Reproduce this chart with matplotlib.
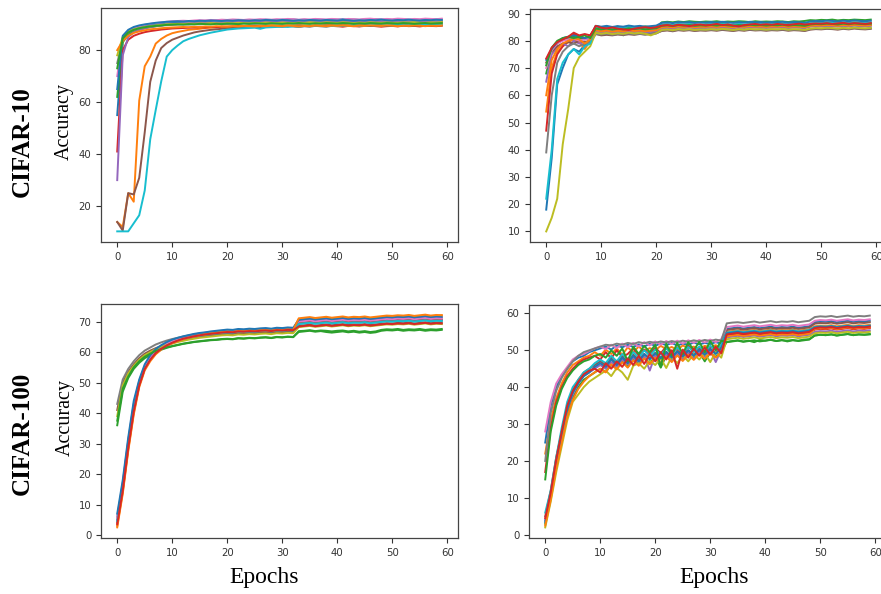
import numpy as np
import matplotlib.pyplot as plt

# test accuracy per epoch, one list per run
cifar10_left = [
    [55, 84.0, 87.0, 88.2, 88.8, 89.3, 89.6, 90.0, 90.2, 90.6,
     90.8, 90.7, 91.0, 91.1, 91.0, 91.2, 91.3, 91.2, 91.4, 91.3,
     91.5, 91.4, 91.6, 91.5, 91.4, 91.6, 91.5, 91.7, 91.6, 91.5,
     91.7, 91.6, 91.8, 91.6, 91.7, 91.5, 91.8, 91.7, 91.6, 91.8,
     91.7, 91.9, 91.7, 91.8, 91.6, 91.8, 91.7, 91.9, 91.8, 91.7,
     91.6, 91.8, 91.9, 91.7, 91.8, 91.6, 91.8, 91.9, 91.7, 91.8],
    [13.9, 12.0, 25.0, 21.7, 60.6, 73.8, 77.5, 82.5, 84.3, 85.6,
     86.5, 87.0, 87.4, 87.8, 88.0, 88.2, 88.5, 88.6, 88.8, 89.0,
     89.1, 89.0, 89.3, 89.2, 89.4, 89.3, 89.5, 89.4, 89.6, 89.5,
     89.4, 89.6, 89.5, 89.7, 89.5, 89.4, 89.6, 89.5, 89.7, 89.6,
     89.5, 89.7, 89.6, 89.4, 89.6, 89.8, 89.5, 89.7, 89.6, 89.5,
     89.7, 89.6, 89.8, 89.5, 89.7, 89.6, 89.8, 89.7, 89.5, 89.7],
    [62, 83.0, 86.0, 87.3, 88.0, 88.5, 88.9, 89.2, 89.5, 89.8,
     90.0, 90.1, 90.2, 90.1, 90.3, 90.4, 90.3, 90.5, 90.4, 90.6,
     90.5, 90.7, 90.6, 90.5, 90.7, 90.6, 90.8, 90.7, 90.6, 90.8,
     90.7, 90.9, 90.8, 90.6, 90.8, 90.7, 90.9, 90.8, 90.7, 90.9,
     90.8, 90.6, 90.9, 90.8, 90.7, 90.9, 91.0, 90.8, 90.7, 90.9,
     90.8, 91.0, 90.9, 90.7, 90.9, 90.8, 91.0, 90.9, 90.8, 91.0],
    [41, 80.0, 84.0, 85.5, 86.3, 86.9, 87.3, 87.6, 87.9, 88.1,
     88.3, 88.4, 88.5, 88.6, 88.7, 88.8, 88.7, 88.9, 88.8, 89.0,
     88.9, 89.1, 89.0, 88.9, 89.1, 89.0, 89.2, 89.1, 89.0, 89.2,
     89.1, 89.3, 89.2, 89.0, 89.2, 89.1, 89.3, 89.2, 89.1, 89.3,
     89.2, 89.0, 89.3, 89.2, 89.1, 89.3, 89.4, 89.2, 89.0, 89.2,
     89.3, 89.1, 89.4, 89.2, 89.3, 89.1, 89.4, 89.3, 89.2, 89.4],
    [30, 78.0, 85.0, 86.8, 87.7, 88.3, 88.8, 89.2, 89.5, 89.8,
     90.0, 90.2, 90.3, 90.4, 90.3, 90.5, 90.6, 90.5, 90.7, 90.6,
     90.8, 90.7, 90.9, 90.8, 90.7, 90.9, 90.8, 91.0, 90.9, 90.8,
     91.0, 90.9, 91.1, 90.9, 91.0, 90.8, 91.1, 91.0, 90.9, 91.1,
     91.0, 91.2, 91.0, 91.1, 90.9, 91.1, 91.0, 91.2, 91.1, 91.0,
     90.9, 91.1, 91.2, 91.0, 91.1, 90.9, 91.1, 91.2, 91.0, 91.1],
    [13.9, 10.6, 25.0, 24.5, 30.9, 48.4, 67.8, 76.0, 80.8, 82.7,
     84.0, 84.8, 85.6, 86.2, 86.8, 87.2, 87.5, 87.8, 88.0, 88.2,
     88.4, 88.5, 88.7, 88.8, 88.9, 89.0, 88.9, 89.1, 89.0, 89.2,
     89.1, 89.3, 89.2, 89.1, 89.3, 89.2, 89.4, 89.3, 89.2, 89.4,
     89.3, 89.5, 89.3, 89.4, 89.2, 89.4, 89.3, 89.5, 89.4, 89.3,
     89.4, 89.3, 89.5, 89.4, 89.3, 89.5, 89.4, 89.6, 89.4, 89.5],
    [70, 85.0, 87.5, 88.6, 89.2, 89.7, 90.1, 90.4, 90.6, 90.9,
     91.1, 91.2, 91.3, 91.2, 91.4, 91.5, 91.4, 91.6, 91.5, 91.7,
     91.6, 91.8, 91.7, 91.6, 91.8, 91.7, 91.9, 91.8, 91.7, 91.9,
     91.8, 92.0, 91.9, 91.7, 91.9, 91.8, 92.0, 91.9, 91.8, 92.0,
     91.9, 91.7, 92.0, 91.9, 91.8, 92.0, 92.1, 91.9, 91.8, 92.0,
     91.9, 92.1, 92.0, 91.8, 92.0, 91.9, 92.1, 92.0, 91.9, 92.1],
    [75, 84.0, 86.5, 87.6, 88.2, 88.6, 89.0, 89.2, 89.4, 89.6,
     89.7, 89.8, 89.9, 89.8, 90.0, 89.9, 90.1, 90.0, 90.2, 90.1,
     90.0, 90.2, 90.1, 90.3, 90.2, 90.1, 90.3, 90.2, 90.4, 90.3,
     90.2, 90.4, 90.3, 90.2, 90.4, 90.3, 90.5, 90.3, 90.2, 90.4,
     90.3, 90.5, 90.4, 90.3, 90.2, 90.4, 90.3, 90.5, 90.4, 90.3,
     90.4, 90.3, 90.5, 90.4, 90.2, 90.4, 90.5, 90.3, 90.4, 90.5],
    [78, 85.0, 87.2, 88.0, 88.5, 88.9, 89.2, 89.5, 89.7, 89.9,
     90.0, 90.1, 90.0, 90.2, 90.1, 90.3, 90.2, 90.4, 90.3, 90.2,
     90.4, 90.3, 90.5, 90.4, 90.3, 90.5, 90.4, 90.6, 90.5, 90.4,
     90.6, 90.5, 90.4, 90.6, 90.5, 90.7, 90.6, 90.5, 90.7, 90.6,
     90.5, 90.7, 90.6, 90.4, 90.6, 90.5, 90.7, 90.6, 90.5, 90.7,
     90.6, 90.5, 90.7, 90.6, 90.8, 90.6, 90.5, 90.7, 90.6, 90.8],
    [10.3, 10.3, 10.3, 13.4, 16.5, 26.0, 45.7, 57.0, 68.0, 77.5,
     80.0, 81.8, 83.4, 84.3, 85.0, 85.7, 86.2, 86.7, 87.1, 87.5,
     87.9, 88.1, 88.3, 88.4, 88.5, 88.6, 88.2, 88.7, 88.8, 88.9,
     89.0, 88.9, 89.1, 89.0, 89.2, 89.1, 89.3, 89.2, 89.1, 89.3,
     89.2, 89.4, 89.3, 89.5, 89.3, 89.4, 89.6, 89.5, 89.4, 89.6,
     89.5, 89.7, 89.6, 89.5, 89.7, 89.6, 89.8, 89.7, 89.6, 89.8],
    [65, 85.5, 87.8, 88.9, 89.5, 89.9, 90.2, 90.5, 90.7, 90.9,
     91.0, 91.1, 91.0, 91.2, 91.1, 91.3, 91.2, 91.4, 91.3, 91.2,
     91.4, 91.3, 91.5, 91.4, 91.3, 91.5, 91.4, 91.6, 91.5, 91.4,
     91.6, 91.5, 91.3, 91.5, 91.4, 91.6, 91.5, 91.4, 91.6, 91.5,
     91.4, 91.6, 91.5, 91.3, 91.5, 91.4, 91.6, 91.5, 91.7, 91.5,
     91.4, 91.6, 91.5, 91.7, 91.5, 91.4, 91.6, 91.5, 91.7, 91.6],
    [80, 83.5, 85.5, 86.6, 87.2, 87.6, 88.0, 88.2, 88.4, 88.6,
     88.7, 88.8, 88.9, 88.8, 89.0, 88.9, 89.1, 89.0, 89.2, 89.1,
     89.0, 89.2, 89.1, 89.3, 89.2, 89.1, 89.3, 89.2, 89.4, 89.3,
     89.2, 89.4, 89.3, 89.1, 89.3, 89.2, 89.4, 89.3, 89.2, 89.4,
     89.3, 89.5, 89.3, 89.2, 89.4, 89.3, 89.5, 89.4, 89.3, 89.5,
     89.4, 89.2, 89.4, 89.3, 89.5, 89.4, 89.2, 89.4, 89.3, 89.5],
    [73, 84.5, 86.8, 87.8, 88.4, 88.8, 89.1, 89.3, 89.5, 89.7,
     89.8, 89.9, 89.8, 90.0, 89.9, 90.1, 90.0, 89.9, 90.1, 90.0,
     90.2, 90.1, 90.0, 90.2, 90.1, 90.3, 90.2, 90.1, 90.3, 90.2,
     90.1, 90.3, 90.2, 90.4, 90.2, 90.1, 90.3, 90.2, 90.4, 90.3,
     90.2, 90.4, 90.3, 90.1, 90.3, 90.2, 90.4, 90.3, 90.2, 90.4,
     90.3, 90.2, 90.4, 90.3, 90.1, 90.3, 90.4, 90.2, 90.3, 90.4],
]

cifar10_right = [
    [18, 37, 64, 70, 75, 77, 76, 78.5, 79.5, 83.5,
     83.0, 83.2, 82.8, 83.4, 83.1, 83.5, 83.3, 83.6, 83.2, 83.4,
     83.3, 84.6, 84.8, 84.5, 84.9, 84.7, 85.0, 84.8, 84.6, 84.9,
     84.8, 85.0, 84.7, 84.9, 85.1, 84.8, 85.0, 84.9, 85.1, 84.8,
     85.0, 84.9, 85.2, 85.0, 84.8, 85.1, 85.0, 85.2, 85.5, 85.4,
     85.6, 85.5, 85.7, 85.4, 85.6, 85.5, 85.7, 85.6, 85.5, 85.7],
    [54, 70, 76, 78, 79.5, 80.5, 79.5, 77, 80, 84.5,
     84.0, 84.3, 83.9, 84.5, 84.2, 84.0, 84.4, 84.1, 84.5, 84.3,
     84.2, 85.8, 86.0, 85.7, 86.1, 85.9, 86.2, 86.0, 85.8, 86.1,
     86.0, 86.2, 85.9, 86.1, 85.4, 84.9, 85.6, 86.1, 86.0, 86.2,
     85.9, 86.1, 86.0, 86.2, 85.9, 86.1, 86.0, 85.8, 86.4, 86.6,
     86.5, 86.7, 86.6, 86.4, 86.7, 86.5, 86.8, 86.6, 86.5, 86.7],
    [68, 77, 79, 80.5, 81, 81.5, 81, 80.5, 81, 85.5,
     85.0, 85.2, 84.8, 85.3, 82.0, 84.5, 85.1, 84.9, 85.3, 85.0,
     84.8, 86.8, 87.0, 86.8, 87.1, 86.9, 87.2, 87.0, 86.9, 87.1,
     87.0, 87.2, 86.9, 87.1, 87.0, 87.2, 87.1, 86.9, 87.2, 87.0,
     87.1, 87.0, 87.2, 87.1, 86.9, 87.2, 87.1, 87.3, 87.6, 87.5,
     87.7, 87.6, 87.8, 87.5, 87.7, 87.6, 87.8, 87.7, 87.6, 87.8],
    [47, 68, 75, 78, 80, 82.5, 81.5, 81, 82, 85,
     84.5, 84.8, 84.3, 84.6, 84.0, 83.6, 84.2, 84.5, 84.8, 84.6,
     84.9, 85.8, 86.0, 85.7, 85.9, 85.6, 85.8, 86.0, 85.7, 85.9,
     86.1, 85.8, 86.0, 85.7, 85.9, 86.1, 85.8, 86.0, 85.9, 86.1,
     85.8, 86.0, 86.2, 85.9, 86.1, 86.0, 86.2, 85.9, 86.1, 86.0,
     86.2, 85.9, 86.1, 86.0, 86.2, 86.1, 85.9, 86.2, 86.0, 86.1],
    [65, 75, 77.5, 79, 78, 80, 79, 79.5, 80, 83.5,
     83.0, 83.3, 83.0, 83.4, 83.2, 83.6, 83.3, 83.5, 83.2, 83.4,
     83.6, 84.6, 84.8, 84.5, 84.9, 84.7, 84.9, 84.6, 84.8, 84.7,
     84.9, 84.7, 85.0, 84.8, 84.6, 84.9, 84.7, 85.0, 84.8, 84.9,
     84.7, 84.9, 84.8, 85.0, 84.7, 84.9, 84.8, 84.6, 85.2, 85.4,
     85.3, 85.5, 85.4, 85.2, 85.5, 85.3, 85.6, 85.4, 85.3, 85.5],
    [72, 76, 78, 79, 79.5, 79, 80, 79.5, 80, 82.5,
     82.0, 82.2, 82.0, 82.3, 82.1, 82.4, 82.2, 82.5, 82.3, 82.6,
     82.8, 83.6, 83.8, 83.5, 83.9, 83.7, 83.9, 83.6, 83.8, 83.7,
     83.9, 83.7, 84.0, 83.8, 83.6, 83.9, 83.7, 84.0, 83.8, 83.9,
     83.7, 83.9, 83.8, 84.0, 83.7, 83.9, 83.8, 83.6, 84.1, 84.3,
     84.2, 84.4, 84.3, 84.1, 84.4, 84.2, 84.5, 84.3, 84.2, 84.4],
    [70, 76.5, 79, 80, 80.5, 81, 80, 80.5, 81, 84,
     83.6, 84.0, 83.7, 84.1, 83.8, 84.2, 83.9, 84.1, 83.8, 84.0,
     84.2, 85.3, 85.5, 85.2, 85.6, 85.4, 85.6, 85.3, 85.5, 85.4,
     85.6, 85.4, 85.7, 85.5, 85.3, 85.6, 85.4, 85.7, 85.5, 85.6,
     85.4, 85.6, 85.5, 85.7, 85.4, 85.6, 85.5, 85.3, 85.9, 86.1,
     86.0, 86.2, 86.1, 85.9, 86.2, 86.0, 86.3, 86.1, 86.0, 86.2],
    [39, 60, 72, 76, 78, 79, 78, 79, 79.5, 82.5,
     82.3, 82.6, 82.2, 82.5, 82.3, 82.7, 82.4, 82.6, 82.3, 82.5,
     82.7, 83.8, 84.0, 83.7, 84.1, 83.9, 84.1, 83.8, 84.0, 83.9,
     84.1, 83.9, 84.2, 84.0, 83.8, 84.1, 83.9, 84.2, 84.0, 84.1,
     83.9, 84.1, 84.0, 84.2, 83.9, 84.1, 84.0, 83.8, 84.3, 84.5,
     84.4, 84.6, 84.5, 84.3, 84.6, 84.4, 84.7, 84.5, 84.4, 84.6],
    [10, 15, 22, 42, 55, 70, 74, 76, 78, 83,
     82.6, 82.9, 82.5, 82.8, 82.6, 83.0, 82.7, 82.9, 82.6, 82.0,
     82.8, 84.0, 84.2, 83.9, 84.3, 84.1, 84.3, 84.0, 84.2, 84.1,
     84.3, 84.1, 84.4, 84.2, 84.0, 84.3, 84.1, 84.4, 84.2, 84.3,
     84.1, 84.3, 84.2, 84.4, 84.1, 84.3, 84.2, 84.0, 84.5, 84.7,
     84.6, 84.8, 84.7, 84.5, 84.8, 84.6, 84.9, 84.7, 84.6, 84.8],
    [22, 40, 66, 72, 75, 77, 75, 78, 79, 85,
     84.6, 84.9, 84.5, 85.0, 84.7, 85.1, 84.8, 85.0, 84.7, 84.9,
     85.1, 85.9, 86.1, 85.8, 86.2, 86.0, 86.2, 85.9, 86.1, 86.0,
     86.2, 86.0, 86.3, 86.1, 85.9, 86.2, 86.0, 86.3, 86.1, 86.2,
     86.0, 86.2, 86.1, 86.3, 86.0, 86.2, 86.1, 85.9, 86.4, 86.6,
     86.5, 86.7, 86.6, 86.4, 86.7, 86.5, 86.8, 86.6, 86.5, 86.7],
    [73, 77, 79.5, 81, 81.5, 82, 81.5, 81, 81.5, 85.5,
     85.2, 85.5, 85.1, 85.4, 85.2, 85.6, 85.3, 85.5, 85.2, 85.4,
     85.6, 86.6, 86.8, 86.5, 86.9, 86.7, 86.9, 86.6, 86.8, 86.7,
     86.9, 86.7, 87.0, 86.8, 86.6, 86.9, 86.7, 87.0, 86.8, 86.9,
     86.7, 86.9, 86.8, 87.0, 86.7, 86.9, 86.8, 86.6, 87.1, 87.3,
     87.2, 87.4, 87.3, 87.1, 87.4, 87.2, 87.5, 87.3, 87.2, 87.4],
    [60, 73, 77, 79, 80, 81, 80.5, 79, 80.5, 84,
     83.5, 83.8, 83.4, 83.7, 83.5, 83.9, 83.6, 83.8, 83.5, 83.7,
     83.9, 85.0, 85.2, 84.9, 85.3, 85.1, 85.3, 85.0, 85.2, 85.1,
     85.3, 85.1, 85.4, 85.2, 85.0, 85.3, 85.1, 85.4, 85.2, 85.3,
     85.1, 85.3, 85.2, 85.4, 85.1, 85.3, 85.2, 85.0, 85.5, 85.7,
     85.6, 85.8, 85.7, 85.5, 85.8, 85.6, 85.9, 85.7, 85.6, 85.8],
    [71, 77.5, 80, 81, 81.5, 81, 81.5, 82, 81, 84.5,
     84.2, 84.5, 84.1, 84.4, 84.2, 84.6, 84.3, 84.5, 84.2, 84.4,
     84.6, 85.5, 85.7, 85.4, 85.8, 85.6, 85.8, 85.5, 85.7, 85.6,
     85.8, 85.6, 85.9, 85.7, 85.5, 85.8, 85.6, 85.9, 85.7, 85.8,
     85.6, 85.8, 85.7, 85.9, 85.6, 85.8, 85.7, 85.5, 86.0, 86.2,
     86.1, 86.3, 86.2, 86.0, 86.3, 86.1, 86.4, 86.2, 86.1, 86.3],
    [73.5, 77.5, 79.5, 80.5, 81.5, 83, 82, 82.5, 82, 85.5,
     84.8, 84.6, 84.9, 84.5, 84.2, 84.0, 84.5, 84.8, 85.0, 84.7,
     85.0, 85.6, 85.8, 85.5, 85.9, 85.7, 85.4, 85.8, 86.0, 85.7,
     85.9, 86.2, 85.8, 86.0, 85.6, 85.3, 85.8, 86.0, 86.2, 85.9,
     86.1, 85.9, 86.2, 86.0, 85.8, 86.1, 86.3, 86.0, 86.2, 86.4,
     86.3, 86.5, 86.2, 86.4, 86.6, 86.3, 86.5, 86.4, 86.2, 86.5],
]

cifar100_left = [
    [5, 16, 30, 42, 50, 55, 58, 60, 61.5, 62.5,
     63.3, 63.9, 64.4, 64.8, 65.1, 65.4, 65.6, 65.9, 66.0, 66.2,
     66.4, 66.3, 66.6, 66.5, 66.8, 66.7, 66.9, 67.0, 66.8, 67.1,
     67.0, 67.2, 67.1, 69.8, 69.9, 70.1, 69.8, 70.0, 70.2, 69.9,
     70.1, 70.3, 70.0, 70.2, 70.1, 70.3, 70.0, 70.2, 70.4, 70.6,
     70.5, 70.7, 70.6, 70.8, 70.5, 70.7, 70.9, 70.6, 70.8, 70.7],
    [3, 14, 28, 40, 49, 54.5, 57.5, 59.5, 61, 62.3,
     63.2, 63.9, 64.5, 65.0, 65.4, 65.8, 66.0, 66.3, 66.5, 66.7,
     66.9, 67.0, 67.2, 67.1, 67.4, 67.3, 67.5, 67.6, 67.4, 67.7,
     67.6, 67.8, 67.7, 70.8, 71.0, 71.2, 70.9, 71.1, 71.3, 71.0,
     71.2, 71.4, 71.1, 71.3, 71.2, 71.4, 71.1, 71.3, 71.5, 71.7,
     71.6, 71.8, 71.7, 71.9, 71.6, 71.8, 72.0, 71.7, 71.9, 72.1],
    [36, 47, 51.5, 54.5, 56.5, 58, 59, 60, 60.8, 61.4,
     61.9, 62.3, 62.7, 63.0, 63.3, 63.5, 63.7, 63.9, 64.0, 64.2,
     64.3, 64.2, 64.5, 64.4, 64.6, 64.5, 64.7, 64.8, 64.6, 64.9,
     64.8, 65.0, 64.9, 66.9, 67.0, 67.2, 66.9, 67.1, 67.0, 66.8,
     67.0, 67.1, 66.8, 67.0, 66.7, 66.9, 66.6, 66.8, 67.3, 67.5,
     67.4, 67.6, 67.3, 67.5, 67.4, 67.6, 67.3, 67.5, 67.4, 67.6],
    [4, 15, 29, 41, 49.5, 55, 58, 60, 61.3, 62.4,
     63.2, 63.9, 64.5, 64.9, 65.3, 65.6, 65.9, 66.1, 66.3, 66.5,
     66.7, 66.6, 66.9, 66.8, 67.0, 66.9, 67.1, 67.2, 67.0, 67.3,
     67.2, 67.4, 67.3, 69.5, 69.7, 69.9, 69.6, 69.8, 70.0, 69.7,
     69.9, 70.1, 69.8, 70.0, 69.9, 70.1, 69.8, 70.0, 70.2, 70.4,
     70.3, 70.5, 70.4, 70.6, 70.3, 70.5, 70.7, 70.4, 70.6, 70.5],
    [6, 17, 31, 43, 50.5, 55.5, 58.5, 60.3, 61.7, 62.8,
     63.6, 64.2, 64.7, 65.1, 65.5, 65.8, 66.0, 66.3, 66.4, 66.6,
     66.8, 66.7, 67.0, 66.9, 67.1, 67.0, 67.2, 67.3, 67.1, 67.4,
     67.3, 67.5, 67.4, 70.3, 70.5, 70.7, 70.4, 70.6, 70.8, 70.5,
     70.7, 70.9, 70.6, 70.8, 70.7, 70.9, 70.6, 70.8, 71.0, 71.2,
     71.1, 71.3, 71.2, 71.4, 71.1, 71.3, 71.5, 71.2, 71.4, 71.3],
    [41, 50, 53.5, 56, 58, 59.5, 60.5, 61.3, 62, 62.6,
     63.1, 63.6, 64.0, 64.4, 64.7, 65.0, 65.2, 65.4, 65.6, 65.8,
     66.0, 65.9, 66.2, 66.1, 66.3, 66.2, 66.4, 66.5, 66.3, 66.6,
     66.5, 66.7, 66.6, 68.6, 68.8, 69.0, 68.7, 68.9, 69.1, 68.8,
     69.0, 69.2, 68.9, 69.1, 69.0, 69.2, 68.9, 69.1, 69.3, 69.5,
     69.4, 69.6, 69.5, 69.7, 69.4, 69.6, 69.8, 69.5, 69.7, 69.6],
    [5.5, 16.5, 30.5, 42.5, 50, 55, 58, 60, 61.5, 62.7,
     63.6, 64.3, 64.9, 65.4, 65.8, 66.1, 66.4, 66.6, 66.8, 67.0,
     67.2, 67.1, 67.4, 67.3, 67.5, 67.4, 67.6, 67.7, 67.5, 67.8,
     67.7, 67.9, 67.8, 70.0, 70.2, 70.4, 70.1, 70.3, 70.5, 70.2,
     70.4, 70.6, 70.3, 70.5, 70.4, 70.6, 70.3, 70.5, 70.7, 70.9,
     70.8, 71.0, 70.9, 71.1, 70.8, 71.0, 71.2, 70.9, 71.1, 71.0],
    [43, 51, 54.5, 57, 59, 60.5, 61.5, 62.5, 63.2, 63.8,
     64.3, 64.7, 65.1, 65.5, 65.8, 66.1, 66.3, 66.5, 66.7, 66.9,
     67.0, 66.9, 67.2, 67.1, 67.3, 67.2, 67.4, 67.5, 67.3, 67.6,
     67.5, 67.7, 67.6, 69.3, 69.5, 69.7, 69.4, 69.6, 69.8, 69.5,
     69.7, 69.9, 69.6, 69.8, 69.7, 69.9, 69.6, 69.8, 70.0, 70.2,
     70.1, 70.3, 70.2, 70.4, 70.1, 70.3, 70.5, 70.2, 70.4, 70.3],
    [39, 49, 53, 55.5, 57.5, 59, 60, 61, 61.7, 62.3,
     62.8, 63.3, 63.7, 64.1, 64.4, 64.7, 64.9, 65.1, 65.3, 65.5,
     65.6, 65.5, 65.8, 65.7, 65.9, 65.8, 66.0, 66.1, 65.9, 66.2,
     66.1, 66.3, 66.2, 68.2, 68.4, 68.6, 68.3, 68.5, 68.7, 68.4,
     68.6, 68.8, 68.5, 68.7, 68.6, 68.8, 68.5, 68.7, 68.9, 69.1,
     69.0, 69.2, 69.1, 69.3, 69.0, 69.2, 69.4, 69.1, 69.3, 69.2],
    [4.5, 15.5, 29.5, 41.5, 49.5, 54.5, 57.5, 59.5, 61, 62.1,
     63.0, 63.7, 64.3, 64.7, 65.1, 65.4, 65.7, 65.9, 66.1, 66.3,
     66.5, 66.4, 66.7, 66.6, 66.8, 66.7, 66.9, 67.0, 66.8, 67.1,
     67.0, 67.2, 67.1, 69.2, 69.4, 69.6, 69.3, 69.5, 69.7, 69.4,
     69.6, 69.8, 69.5, 69.7, 69.6, 69.8, 69.5, 69.7, 69.9, 70.1,
     70.0, 70.2, 70.1, 70.3, 70.0, 70.2, 70.4, 70.1, 70.3, 70.2],
    [7, 18, 32, 44, 51, 56, 59, 61, 62.3, 63.3,
     64.1, 64.7, 65.2, 65.6, 66.0, 66.3, 66.5, 66.8, 67.0, 67.2,
     67.4, 67.3, 67.6, 67.5, 67.7, 67.6, 67.8, 67.9, 67.7, 68.0,
     67.9, 68.1, 68.0, 70.6, 70.8, 71.0, 70.7, 70.9, 71.1, 70.8,
     71.0, 71.2, 70.9, 71.1, 71.0, 71.2, 70.9, 71.1, 71.3, 71.5,
     71.4, 71.6, 71.5, 71.7, 71.4, 71.6, 71.8, 71.5, 71.7, 71.6],
    [2.5, 13.5, 27.5, 39.5, 48.5, 54, 57, 59.3, 60.8, 62,
     62.9, 63.6, 64.2, 64.7, 65.1, 65.5, 65.8, 66.1, 66.3, 66.5,
     66.7, 66.6, 66.9, 66.8, 67.0, 66.9, 67.1, 67.2, 67.0, 67.3,
     67.2, 67.4, 67.3, 71.1, 71.3, 71.5, 71.2, 71.4, 71.6, 71.3,
     71.5, 71.7, 71.4, 71.6, 71.5, 71.7, 71.4, 71.6, 71.8, 72.0,
     71.9, 72.1, 72.0, 72.2, 71.9, 72.1, 72.3, 72.0, 72.2, 72.1],
    [37.5, 48, 52, 55, 57, 58.5, 59.5, 60.4, 61, 61.6,
     62.0, 62.4, 62.8, 63.1, 63.4, 63.6, 63.8, 64.0, 64.1, 64.3,
     64.4, 64.3, 64.6, 64.5, 64.7, 64.6, 64.8, 64.9, 64.7, 65.0,
     64.9, 65.1, 65.0, 66.6, 66.8, 67.0, 66.7, 66.9, 66.6, 66.4,
     66.6, 66.8, 66.5, 66.7, 66.4, 66.6, 66.3, 66.5, 67.0, 67.2,
     67.1, 67.3, 67.0, 67.2, 67.1, 67.3, 67.0, 67.2, 67.1, 67.3],
    [3.5, 14.5, 28.5, 40.5, 49, 54.5, 57.5, 59.7, 61.1, 62.2,
     63.1, 63.8, 64.4, 64.8, 65.2, 65.5, 65.8, 66.0, 66.2, 66.4,
     66.6, 66.5, 66.8, 66.7, 66.9, 66.8, 67.0, 67.1, 66.9, 67.2,
     67.1, 67.3, 67.2, 68.4, 68.6, 68.8, 68.5, 68.7, 68.9, 68.6,
     68.8, 69.0, 68.7, 68.9, 68.8, 69.0, 68.7, 68.9, 69.1, 69.3,
     69.2, 69.4, 69.3, 69.5, 69.2, 69.4, 69.6, 69.3, 69.5, 69.4],
]

cifar100_right = [
    [25, 35, 40, 43, 45, 47, 48, 48.5, 49.5, 50,
     50.5, 51.0, 50.2, 51.3, 50.8, 51.5, 50.9, 51.6, 51.0, 51.8,
     51.2, 51.9, 51.4, 52.0, 51.3, 51.8, 51.5, 52.1, 51.6, 52.0,
     51.7, 52.2, 51.8, 55.8, 56.0, 56.2, 55.9, 56.1, 56.3, 56.0,
     56.2, 56.4, 56.1, 56.3, 56.2, 56.4, 56.1, 56.3, 56.5, 57.6,
     57.8, 57.7, 57.9, 57.6, 57.8, 58.0, 57.7, 57.9, 57.8, 58.0],
    [22, 31, 37, 41, 44, 46, 47, 48, 48.5, 49.5,
     48.5, 50.2, 49.0, 50.5, 48.8, 50.8, 49.5, 51.0, 49.8, 50.6,
     50.0, 51.2, 50.3, 50.9, 50.1, 51.3, 50.6, 51.0, 50.4, 51.2,
     50.8, 51.4, 50.5, 55.0, 55.2, 55.4, 55.1, 55.3, 55.5, 55.2,
     55.4, 55.6, 55.3, 55.5, 55.4, 55.6, 55.3, 55.5, 55.7, 56.5,
     56.7, 56.6, 56.8, 56.5, 56.7, 56.9, 56.6, 56.8, 56.7, 56.9],
    [3, 10, 19, 26, 33, 37, 40, 42, 43, 44,
     45.0, 44.2, 46.0, 45.1, 47.0, 45.5, 47.5, 46.2, 48.0, 46.5,
     48.3, 45.3, 48.6, 47.2, 49.0, 47.5, 49.2, 47.9, 49.5, 47.0,
     49.4, 48.2, 49.6, 52.3, 52.5, 52.7, 52.4, 52.6, 52.2, 52.8,
     52.6, 52.9, 52.5, 52.8, 52.4, 52.7, 52.6, 52.9, 53.0, 54.0,
     54.2, 54.1, 54.3, 54.0, 54.2, 54.4, 54.1, 54.3, 54.2, 54.3],
    [17, 29, 36, 40, 43, 45, 46.5, 47.5, 48, 48.5,
     47.5, 49.5, 47.8, 50.0, 48.2, 49.0, 50.5, 48.6, 50.2, 48.9,
     50.7, 49.2, 51.0, 49.6, 50.8, 48.5, 51.2, 49.9, 50.5, 49.7,
     51.0, 50.2, 51.3, 54.0, 54.3, 54.5, 54.2, 54.4, 54.6, 54.3,
     54.5, 54.7, 54.4, 54.6, 54.5, 54.7, 54.4, 54.6, 54.8, 55.6,
     55.8, 55.7, 55.9, 55.6, 55.8, 56.0, 55.7, 55.9, 55.8, 56.0],
    [4, 11, 20, 27, 34, 38, 41, 43, 44, 45,
     46.0, 45.0, 46.8, 45.5, 47.5, 46.2, 48.0, 46.8, 48.5, 44.5,
     48.7, 46.5, 49.0, 47.3, 49.3, 47.6, 49.5, 48.0, 49.7, 48.3,
     50.0, 46.8, 50.2, 53.5, 53.7, 53.9, 53.6, 53.8, 54.0, 53.7,
     53.9, 54.1, 53.8, 54.0, 53.9, 54.1, 53.8, 54.0, 54.2, 55.0,
     55.2, 55.1, 55.3, 55.0, 55.2, 55.4, 55.1, 55.3, 55.2, 55.4],
    [5, 12, 21, 28, 35, 39, 42, 44, 45, 46,
     47.0, 46.0, 47.8, 46.5, 48.3, 47.0, 48.8, 47.5, 49.0, 47.8,
     49.3, 48.0, 49.6, 48.3, 49.8, 48.5, 50.0, 48.8, 50.2, 49.0,
     50.4, 49.3, 50.6, 55.5, 55.7, 55.9, 55.6, 55.8, 56.0, 55.7,
     55.9, 56.1, 55.8, 56.0, 55.9, 56.1, 55.8, 56.0, 56.2, 57.2,
     57.4, 57.3, 57.5, 57.2, 57.4, 57.6, 57.3, 57.5, 57.4, 57.6],
    [28, 36, 41, 43.5, 45.5, 47.5, 48.5, 49, 49.8, 50.5,
     51.0, 50.3, 51.5, 50.6, 51.8, 50.8, 52.0, 51.0, 52.2, 51.3,
     52.4, 51.5, 52.5, 51.7, 52.6, 51.8, 52.7, 52.0, 52.8, 52.1,
     52.9, 52.2, 53.0, 56.3, 56.5, 56.7, 56.4, 56.6, 56.8, 56.5,
     56.7, 56.9, 56.6, 56.8, 56.7, 56.9, 56.6, 56.8, 57.0, 58.0,
     58.2, 58.1, 58.3, 58.0, 58.2, 58.4, 58.1, 58.3, 58.2, 58.4],
    [20, 33, 39, 42.5, 45, 47, 48.5, 49.5, 50, 50.5,
     51.0, 51.5, 51.3, 51.8, 51.5, 52.0, 51.7, 52.2, 51.9, 52.3,
     52.0, 52.4, 52.1, 52.5, 52.2, 52.6, 52.3, 52.7, 52.4, 52.8,
     52.5, 52.9, 52.6, 57.3, 57.5, 57.6, 57.4, 57.6, 57.8, 57.5,
     57.7, 57.9, 57.6, 57.8, 57.7, 57.9, 57.6, 57.8, 58.0, 59.0,
     59.2, 59.1, 59.3, 59.0, 59.2, 59.4, 59.1, 59.3, 59.2, 59.4],
    [2, 9, 17, 24, 31, 36, 38, 40, 41.5, 42.5,
     43.5, 44.5, 43.0, 45.2, 44.0, 42.0, 45.8, 46.5, 45.0, 47.2,
     46.0, 47.8, 45.2, 48.3, 46.5, 48.6, 47.0, 48.9, 47.5, 49.2,
     46.8, 49.5, 48.0, 53.0, 53.2, 53.4, 53.1, 53.3, 53.5, 53.2,
     53.4, 53.6, 53.3, 53.5, 53.4, 53.6, 53.3, 53.5, 53.7, 54.6,
     54.8, 54.7, 54.9, 54.6, 54.8, 55.0, 54.7, 54.9, 54.8, 55.0],
    [6, 12, 21, 29, 36, 40, 42, 44, 45, 46.5,
     47.5, 46.5, 48.5, 47.0, 49.0, 47.5, 49.5, 48.0, 50.0, 48.5,
     50.2, 48.8, 50.5, 49.0, 50.7, 49.3, 50.9, 49.5, 51.0, 49.8,
     51.2, 50.0, 51.4, 54.8, 55.0, 55.2, 54.9, 55.1, 55.3, 55.0,
     55.2, 55.4, 55.1, 55.3, 55.2, 55.4, 55.1, 55.3, 55.5, 56.3,
     56.5, 56.4, 56.6, 56.3, 56.5, 56.7, 56.4, 56.6, 56.5, 56.7],
    [3.5, 10.5, 19.5, 27, 34, 38.5, 41, 43, 44, 45.5,
     46.5, 45.5, 47.5, 46.0, 48.0, 46.5, 48.5, 47.0, 49.0, 47.5,
     49.2, 47.8, 49.5, 48.0, 49.7, 48.3, 50.0, 48.5, 50.1, 48.8,
     50.3, 49.0, 50.5, 54.6, 54.8, 55.0, 54.7, 54.9, 55.1, 54.8,
     55.0, 55.2, 54.9, 55.1, 55.0, 55.2, 54.9, 55.1, 55.3, 56.2,
     56.4, 56.3, 56.5, 56.2, 56.4, 56.6, 56.3, 56.5, 56.4, 56.6],
    [2.5, 9.5, 18, 25, 32, 36.5, 39.5, 41.5, 43, 44,
     45.0, 44.0, 46.2, 44.8, 46.8, 45.3, 47.3, 45.8, 47.8, 46.2,
     48.0, 46.5, 48.3, 46.8, 48.6, 47.1, 48.8, 47.4, 49.0, 47.7,
     49.2, 48.0, 49.4, 53.8, 54.0, 54.2, 53.9, 54.1, 54.3, 54.0,
     54.2, 54.4, 54.1, 54.3, 54.2, 54.4, 54.1, 54.3, 54.5, 55.8,
     56.0, 55.9, 56.1, 55.8, 56.0, 56.2, 55.9, 56.1, 56.0, 56.2],
    [15, 28, 35, 39.5, 42.5, 44.5, 46, 47, 47.5, 48.5,
     49.0, 48.0, 50.0, 48.5, 50.5, 47.0, 51.0, 49.0, 51.2, 49.5,
     51.5, 45.5, 51.8, 48.5, 52.0, 49.0, 52.2, 50.0, 52.3, 49.5,
     52.5, 50.0, 52.6, 52.2, 52.4, 52.6, 52.3, 52.5, 52.7, 52.4,
     52.6, 52.8, 52.5, 52.7, 52.6, 52.8, 52.5, 52.7, 52.9, 54.0,
     54.2, 54.1, 54.3, 54.0, 54.2, 54.4, 54.1, 54.3, 54.2, 54.4],
    [4.5, 11.5, 20.5, 28, 35, 39, 41.5, 43.5, 44.5, 45,
     44.0, 46.5, 45.0, 47.0, 45.5, 47.8, 46.0, 48.5, 46.3, 49.0,
     47.0, 49.5, 47.5, 50.0, 45.0, 50.2, 48.0, 50.5, 48.5, 50.8,
     48.8, 51.0, 49.2, 54.3, 54.5, 54.7, 54.4, 54.6, 54.8, 54.5,
     54.7, 54.9, 54.6, 54.8, 54.7, 54.9, 54.6, 54.8, 55.0, 56.0,
     56.2, 56.1, 56.3, 56.0, 56.2, 56.4, 56.1, 56.3, 56.2, 56.4],
]

row_names = ['CIFAR-10', 'CIFAR-100']
x_ticks = [0, 10, 20, 30, 40, 50, 60]
y_ticks = [[20, 40, 60, 80],
           [10, 20, 30, 40, 50, 60, 70, 80, 90],
           [0, 10, 20, 30, 40, 50, 60, 70],
           [0, 10, 20, 30, 40, 50, 60]]

fig = plt.figure(figsize=(8.81, 5.94), dpi=100)
W, H = 881, 594
boxes = [(101, 8, 357, 234), (530, 9, 357, 233),
         (101, 304, 357, 234), (529, 305, 357, 233)]
panels = [cifar10_left, cifar10_right, cifar100_left, cifar100_right]

for (x0, y0, w, h), runs, yt in zip(boxes, panels, y_ticks):
    ax = fig.add_axes([x0 / W, 1 - (y0 + h) / H, w / W, h / H])
    for run in runs:
        ax.plot(np.arange(len(run)), run, lw=1.4)
    ax.set_xticks(x_ticks)
    ax.set_yticks(yt)
    ax.tick_params(labelsize=7.3, colors='#333333', length=3.5, width=0.8)
    for s in ax.spines.values():
        s.set_color('#444444')
        s.set_linewidth(0.9)

serif = 'Liberation Serif'
fig.text(22 / W, 1 - 142 / H, row_names[0], rotation=90, ha='center', va='center',
         family=serif, weight='bold', fontsize=18)
fig.text(22 / W, 1 - 433 / H, row_names[1], rotation=90, ha='center', va='center',
         family=serif, weight='bold', fontsize=18)
fig.text(64 / W, 1 - 121 / H, 'Accuracy', rotation=90, ha='center', va='center',
         family=serif, fontsize=14.5)
fig.text(65 / W, 1 - 417 / H, 'Accuracy', rotation=90, ha='center', va='center',
         family=serif, fontsize=14.5)
fig.text(264 / W, 1 - 578 / H, 'Epochs', ha='center', va='center',
         family=serif, fontsize=17)
fig.text(714 / W, 1 - 578 / H, 'Epochs', ha='center', va='center',
         family=serif, fontsize=17)

fig.savefig('out.png', dpi=100)
